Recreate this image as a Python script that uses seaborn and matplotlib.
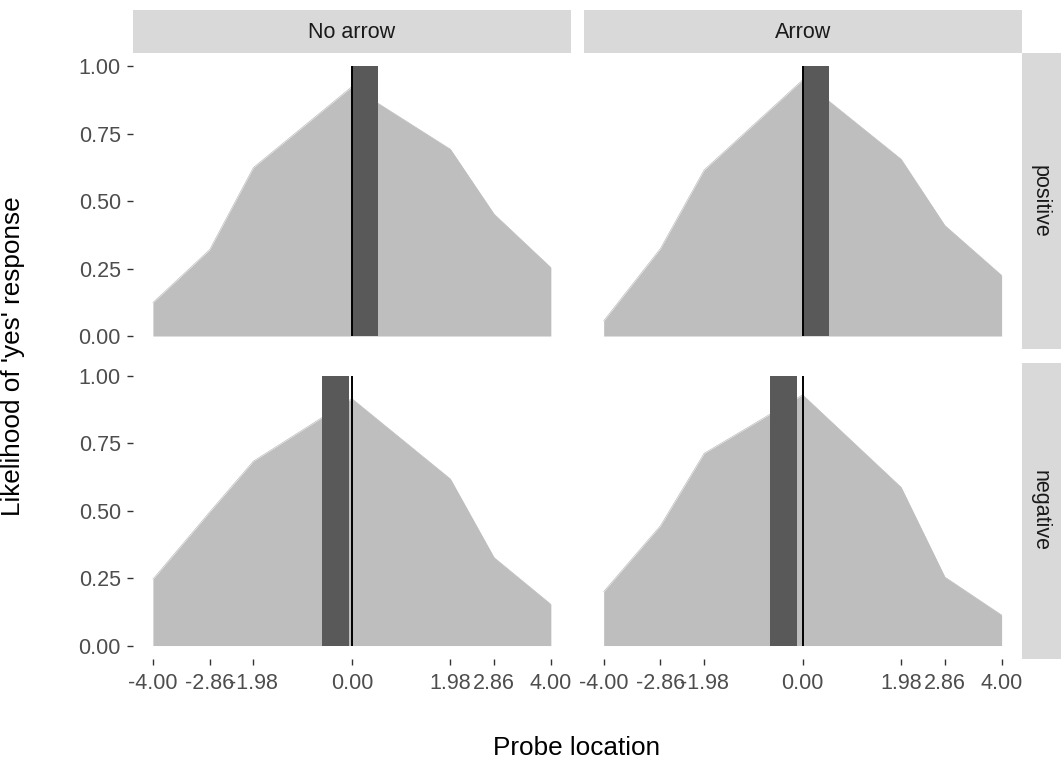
import numpy as np
import pandas as pd
import matplotlib
matplotlib.use("Agg")
import matplotlib.pyplot as plt
from matplotlib.patches import Rectangle
import seaborn as sns

# Probe positions (x) and the facet levels
probe_locations = [-4.00, -2.86, -1.98, 0.00, 1.98, 2.86, 4.00]
cue_levels = ["No arrow", "Arrow"]
valence_levels = ["positive", "negative"]

# Likelihood of a 'yes' response at each probe location
yes_no_arrow_positive = [0.124, 0.320, 0.625, 0.925, 0.693, 0.452, 0.254]
yes_arrow_positive = [0.056, 0.324, 0.616, 0.950, 0.656, 0.410, 0.225]
yes_no_arrow_negative = [0.246, 0.495, 0.684, 0.916, 0.618, 0.326, 0.153]
yes_arrow_negative = [0.200, 0.444, 0.713, 0.930, 0.587, 0.254, 0.113]

# Shifted-centre interval (start, end) for each panel
shift_no_arrow_positive = [0.00, 0.52]
shift_arrow_positive = [0.00, 0.53]
shift_no_arrow_negative = [-0.60, -0.05]
shift_arrow_negative = [-0.66, -0.11]

curves = {
    ("positive", "No arrow"): yes_no_arrow_positive,
    ("positive", "Arrow"): yes_arrow_positive,
    ("negative", "No arrow"): yes_no_arrow_negative,
    ("negative", "Arrow"): yes_arrow_negative,
}
shifts = {
    ("positive", "No arrow"): shift_no_arrow_positive,
    ("positive", "Arrow"): shift_arrow_positive,
    ("negative", "No arrow"): shift_no_arrow_negative,
    ("negative", "Arrow"): shift_arrow_negative,
}

rows = []
for (val, cue), ys in curves.items():
    for x, y in zip(probe_locations, ys):
        rows.append({"valence": val, "cue": cue, "probe": x, "yes": y})
df = pd.DataFrame(rows)

sns.set_theme(style="white")
plt.rcParams["font.family"] = ["Liberation Sans", "DejaVu Sans"]

W, H = 1061, 765
g = sns.FacetGrid(df, row="valence", col="cue", row_order=valence_levels,
                  col_order=cue_levels, sharex=True, sharey=True,
                  height=3.5, aspect=1.4, despine=False)


def draw_panel(data, **kws):
    ax = plt.gca()
    d = data.sort_values("probe")
    ax.fill_between(d["probe"], 0, d["yes"], color="#BEBEBE", lw=0, zorder=1)
    sns.lineplot(data=d, x="probe", y="yes", color="#BEBEBE", lw=0.5,
                 ax=ax, legend=False, zorder=1.5)
    key = (data["valence"].iloc[0], data["cue"].iloc[0])
    lo, hi = shifts[key]
    ax.bar(lo, 1.0, width=hi - lo, bottom=0, align="edge",
           color="#595959", lw=0, zorder=2)
    ax.vlines(0, 0, 1, color="black", lw=1.4, zorder=3)


g.map_dataframe(draw_panel)

fig = g.figure
fig.set_size_inches(W / 100, H / 100)
fig.subplots_adjust(left=133 / W, right=1021.5 / W,
                    top=1 - 53 / H, bottom=1 - 659 / H,
                    wspace=13 / 437.5, hspace=13 / 296)

tick_labels = [f"{v:.2f}" for v in probe_locations]
y_ticks = [0.0, 0.25, 0.5, 0.75, 1.0]
strip_color = "#D9D9D9"
small = 15.5

for i, val in enumerate(valence_levels):
    for j, cue in enumerate(cue_levels):
        ax = g.axes[i, j]
        ax.set_xlim(-4.4, 4.4)
        ax.set_ylim(-0.05, 1.05)
        ax.set_title("")
        ax.set_xlabel("")
        ax.set_ylabel("")
        for s in ax.spines.values():
            s.set_visible(False)
        ax.set_xticks(probe_locations)
        ax.set_xticklabels(tick_labels)
        ax.set_yticks(y_ticks)
        ax.set_yticklabels([f"{v:.2f}" for v in y_ticks])
        ax.tick_params(axis="both", length=4.3, width=1.0, color="#333333",
                       labelcolor="#4D4D4D", labelsize=small)
        ax.tick_params(axis="y", pad=4.5)
        ax.tick_params(axis="x", pad=6)
        if j > 0:
            ax.tick_params(axis="y", left=False, labelleft=False)
        else:
            ax.tick_params(axis="y", left=True, labelleft=True)
        if i == 0:
            ax.tick_params(axis="x", bottom=False, labelbottom=False)
        else:
            ax.tick_params(axis="x", bottom=True, labelbottom=True)
        ax.grid(False)

        # column strip
        if i == 0:
            ax.add_patch(Rectangle((0, 1), 1, 43 / 296, transform=ax.transAxes,
                                   facecolor=strip_color, edgecolor="none",
                                   clip_on=False, zorder=0))
            ax.text(0.5, 1 + 20 / 296, cue, transform=ax.transAxes,
                    ha="center", va="center", fontsize=small, color="#1A1A1A")
        # row strip
        if j == len(cue_levels) - 1:
            ax.add_patch(Rectangle((1, 0), 42 / 438, 1, transform=ax.transAxes,
                                   facecolor=strip_color, edgecolor="none",
                                   clip_on=False, zorder=0))
            ax.text(1 + 19 / 438, 0.5, val, transform=ax.transAxes,
                    ha="center", va="center", rotation=-90,
                    fontsize=small, color="#1A1A1A")

fig.text(577 / W, 1 - 748 / H, "Probe location", ha="center", va="center",
         fontsize=18.8, color="black")
fig.text(13 / W, 1 - 356 / H, "Likelihood of 'yes' response", ha="center",
         va="center", rotation=90, fontsize=18.8, color="black")

fig.savefig("out.png", dpi=100, facecolor="white")
